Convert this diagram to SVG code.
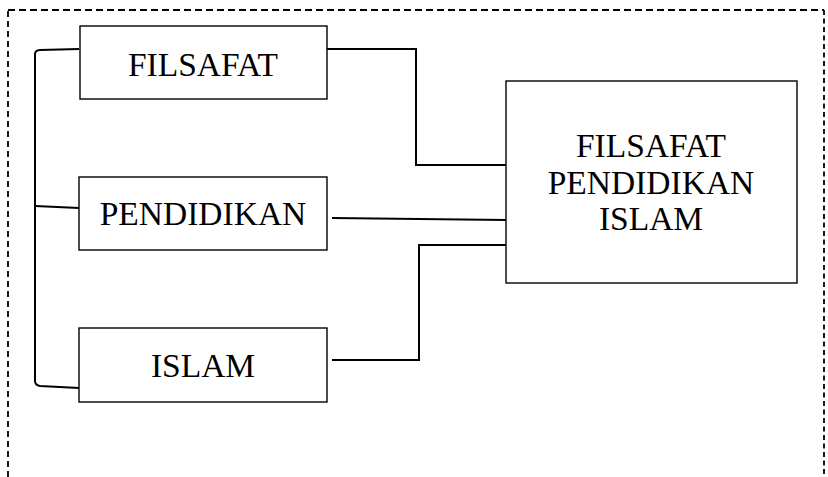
<svg xmlns="http://www.w3.org/2000/svg" width="828" height="477" viewBox="0 0 828 477">
<style>
.box{fill:#fff;stroke:#000;stroke-width:1.4}
.lbl{font-family:"Liberation Serif","Times New Roman",serif;font-size:33.5px;fill:#000;text-anchor:middle}
.con{fill:none;stroke:#000;stroke-width:2}
.frame{fill:none;stroke:#000;stroke-width:1.8}
</style>
<rect width="828" height="477" fill="#fff"/>
<g id="frame">
<path class="frame" d="M8,477 V10" stroke-dasharray="6,4"/>
<path class="frame" d="M8,10 H824" stroke-dasharray="7,4"/>
<path class="frame" d="M824,10 V477" stroke-dasharray="5,3.5"/>
</g>
<g id="connectors">
<path class="con" d="M79,49 L40,50 Q35,50.5 35,54 V381 Q35,385 40,386 L79,388"/>
<path class="con" d="M35,206 L79,208"/>
<path class="con" d="M327,49 H416 V165 H506"/>
<path class="con" d="M332,218 L506,220"/>
<path class="con" d="M332,360 H419 V245 H506"/>
</g>
<g id="node-filsafat">
<rect class="box" x="80" y="26" width="247" height="73"/>
<text class="lbl" x="203" y="76">FILSAFAT</text>
</g>
<g id="node-pendidikan">
<rect class="box" x="79" y="177" width="248" height="73"/>
<text class="lbl" x="203" y="225">PENDIDIKAN</text>
</g>
<g id="node-islam">
<rect class="box" x="79" y="328" width="248" height="74"/>
<text class="lbl" x="203" y="377">ISLAM</text>
</g>
<g id="node-fpi">
<rect class="box" x="506" y="81" width="291" height="202"/>
<text class="lbl" x="651" y="157">FILSAFAT</text>
<text class="lbl" x="651" y="194">PENDIDIKAN</text>
<text class="lbl" x="651" y="230">ISLAM</text>
</g>
</svg>
